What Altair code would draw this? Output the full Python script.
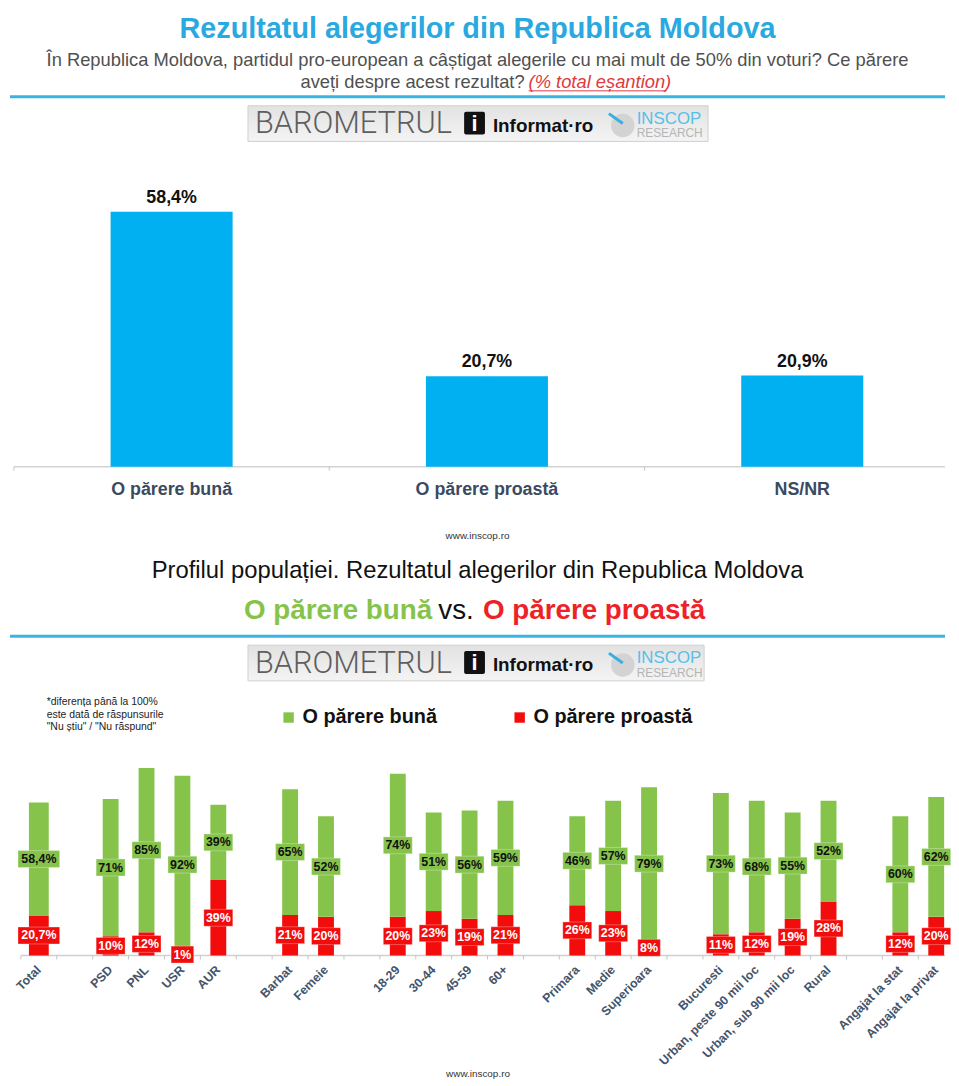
import altair as alt
import pandas as pd

# ---------------- data ----------------
top_categories = ["O părere bună", "O părere proastă", "NS/NR"]
top_values = [58.4, 20.7, 20.9]
top_labels = ["58,4%", "20,7%", "20,9%"]

profile_groups = [
    ["Total"],
    ["PSD", "PNL", "USR", "AUR"],
    ["Barbat", "Femeie"],
    ["18-29", "30-44", "45-59", "60+"],
    ["Primara", "Medie", "Superioara"],
    ["Bucuresti", "Urban, peste 90 mii loc", "Urban, sub 90 mii loc", "Rural"],
    ["Angajat la stat", "Angajat la privat"],
]
good_values = [58.4, 71, 85, 92, 39, 65, 52, 74, 51, 56, 59, 46, 57, 79, 73, 68, 55, 52, 60, 62]
bad_values = [20.7, 10, 12, 1, 39, 21, 20, 20, 23, 19, 21, 26, 23, 8, 11, 12, 19, 28, 12, 20]
good_labels = ["58,4%", "71%", "85%", "92%", "39%", "65%", "52%", "74%", "51%", "56%", "59%",
               "46%", "57%", "79%", "73%", "68%", "55%", "52%", "60%", "62%"]
bad_labels = ["20,7%", "10%", "12%", "1%", "39%", "21%", "20%", "20%", "23%", "19%", "21%",
              "26%", "23%", "8%", "11%", "12%", "19%", "28%", "12%", "20%"]
series_names = ["O părere bună", "O părere proastă"]

GREEN = "#86c34b"
RED = "#f20c0c"
BLUE = "#00b0f0"
LINEBLUE = "#38b4e6"
LABEL_COL = "#44546a"
FONT = "Liberation Sans"

# ---------------- derived tables ----------------
profile_categories = [c for g in profile_groups for c in g]
slots = []
for i, g in enumerate(profile_groups):
    if i > 0:
        slots.append("_%d" % i)
    slots.extend(g)

rows = []
for c, g, b, gl, bl in zip(profile_categories, good_values, bad_values, good_labels, bad_labels):
    rows.append(dict(cat=c, serie=series_names[1], value=b, label=bl, ord=0, mid=b / 2))
    rows.append(dict(cat=c, serie=series_names[0], value=g, label=gl, ord=1, mid=b + g / 2))
prof = pd.DataFrame(rows)
slot_df = pd.DataFrame({"cat": slots})
top_df = pd.DataFrame({"cat": top_categories, "value": top_values, "label": top_labels})

W = 943
HA = 458
HB = 493


def one():
    return pd.DataFrame({"t": [""]})


def txt(text, x, y, size, color="#000", weight="normal", align="center", font=FONT, style="normal"):
    return alt.Chart(pd.DataFrame({"t": [text]})).mark_text(
        align=align, baseline="middle", fontSize=size, color=color, fontWeight=weight,
        font=font, fontStyle=style
    ).encode(x=alt.value(x), y=alt.value(y), text="t:N")


def hline(x1, x2, y, color, width):
    return alt.Chart(one()).mark_rule(color=color, strokeWidth=width).encode(
        x=alt.value(x1), x2=alt.value(x2), y=alt.value(y))


def banner(x0, y0, w):
    h = 36
    layers = []
    layers.append(alt.Chart(one()).mark_rect(
        color={"gradient": "linear", "x1": 0, "y1": 0, "x2": 0, "y2": 1,
               "stops": [{"offset": 0, "color": "#e2e2e2"}, {"offset": 1, "color": "#f4f4f4"}]},
        stroke="#cfcfcf", strokeWidth=1
    ).encode(x=alt.value(x0), x2=alt.value(x0 + w), y=alt.value(y0), y2=alt.value(y0 + h)))
    layers.append(txt("BAROMETRUL", x0 + 7, y0 + 19, 31, "#5e5e5e", 300, "left", "Roboto"))
    layers.append(alt.Chart(one()).mark_rect(color="#111", cornerRadius=2).encode(
        x=alt.value(x0 + 218), x2=alt.value(x0 + 239), y=alt.value(y0 + 6), y2=alt.value(y0 + 29)))
    layers.append(txt("i", x0 + 228.5, y0 + 18, 22, "white", "bold"))
    layers.append(txt("Informat·ro", x0 + 247, y0 + 20, 19, "#111", "bold", "left"))
    layers.append(alt.Chart(one()).mark_point(filled=True, color="#d3d3d3", opacity=1, size=560).encode(
        x=alt.value(x0 + 378), y=alt.value(y0 + 20)))
    layers.append(alt.Chart(one()).mark_rule(color="#3aaee0", strokeWidth=3).encode(
        x=alt.value(x0 + 364), x2=alt.value(x0 + 378), y=alt.value(y0 + 8), y2=alt.value(y0 + 18)))
    layers.append(txt("INSCOP", x0 + 392, y0 + 13, 17, "#55c0e8", "normal", "left"))
    layers.append(txt("RESEARCH", x0 + 392, y0 + 28, 12, "#b5b5b5", "normal", "left"))
    return layers


# ---------------- panel A ----------------
xA = alt.X("cat:N", sort=top_categories, axis=None,
           scale=alt.Scale(domain=top_categories, range=[4, 958], paddingInner=0.613, paddingOuter=0.3065))
yA = alt.Y("value:Q", axis=None, scale=alt.Scale(domain=[0, HA / 4.40], nice=False))

barsA = alt.Chart(top_df).mark_bar(color=BLUE).encode(x=xA, y=yA)
valA = alt.Chart(top_df).mark_text(dy=-14, fontSize=18, fontWeight="bold", color="#111", baseline="middle").encode(
    x=xA, y=yA, text="label:N")
catA = alt.Chart(top_df).mark_text(dy=24, fontSize=18, fontWeight="bold", color="#3a4a60", baseline="middle").encode(
    x=xA, y=alt.value(HA), text="cat:N")
tickA = alt.Chart(top_df).mark_rule(color="#c4c4c4", xOffset=-159).encode(
    x=xA, y=alt.value(HA), y2=alt.value(HA + 4))
baseA = hline(4, W, HA, "#d4d4d4", 1.5)

headA = [
    txt("Rezultatul alegerilor din Republica Moldova", W / 2, 17, 29, "#29a9e0", "bold"),
    txt("În Republica Moldova, partidul pro-european a câștigat alegerile cu mai mult de 50% din voturi? Ce părere",
        W / 2, 48, 18.5, "#505050"),
    txt("aveți despre acest rezultat? ", 519, 70, 18.5, "#505050", align="right"),
    txt("(% total eșantion)", 523, 70, 18.5, "#e0393e", align="left", style="italic"),
    hline(523, 662, 79, "#e0393e", 1),
    hline(0, W, 85, LINEBLUE, 3),
]

panelA = alt.layer(*headA, *banner(240, 94, 464), baseA, tickA, barsA, valA, catA).properties(width=W, height=HA)

# ---------------- panel B ----------------
axisB = alt.Axis(
    title="www.inscop.ro", labelAngle=-45, labelAlign="right", labelBaseline="middle",
    labelFontSize=12.5, labelFontWeight="bold", labelColor=LABEL_COL, labelPadding=12,
    labelOverlap=False, domain=False, ticks=False, labelFont=FONT,
    labelExpr="indexof(datum.label, '_') == 0 ? '' : datum.label",
    titleX=W / 2, titleY=119, titleFontSize=10, titleFontWeight="normal", titleColor="#333",
    titleBaseline="middle", titleAlign="center", titleFont=FONT,
)
xB = alt.X("cat:N", sort=slots, axis=axisB,
           scale=alt.Scale(domain=slots, range=[11, 952.2], paddingInner=0.558, paddingOuter=0.279))
ysB = alt.Scale(domain=[0, HB / 1.95], nice=False)
colB = alt.Color("serie:N", scale=alt.Scale(domain=series_names, range=[GREEN, RED]),
                 legend=alt.Legend(orient="none", legendX=271, legendY=701, direction="horizontal",
                                   title=None, symbolType="square", symbolSize=110, symbolStrokeWidth=0,
                                   symbolOpacity=1, labelFontSize=20, labelFontWeight="bold",
                                   labelColor="#111", labelFont=FONT, columnPadding=73, padding=0,
                                   labelOffset=4, labelLimit=300))

barsB = alt.Chart(prof).transform_calculate(
    bw="datum.cat == 'Total' ? 20 : 16"
).mark_bar().encode(
    x=xB, y=alt.Y("value:Q", stack="zero", scale=ysB, axis=None),
    color=colB, order=alt.Order("ord:Q"),
    size=alt.Size("bw:Q", scale=None, legend=None),
)
boxB = alt.Chart(prof).transform_calculate(
    boxw="length(datum.label) * 6.4 + 10"
).mark_bar(yOffset=-8.5, y2Offset=8.5, stroke="white", strokeWidth=0.6, strokeOpacity=0.5).encode(
    x=xB, y=alt.Y("mid:Q", scale=ysB, axis=None), y2="mid:Q",
    color=alt.Color("serie:N", scale=alt.Scale(domain=series_names, range=[GREEN, RED]), legend=None),
    size=alt.Size("boxw:Q", scale=None, legend=None),
)
labB = alt.Chart(prof).mark_text(fontSize=12.5, fontWeight="bold", baseline="middle").encode(
    x=xB, y=alt.Y("mid:Q", scale=ysB, axis=None), text="label:N",
    color=alt.condition(alt.datum.serie == series_names[1], alt.value("white"), alt.value("#111")),
)
tickB = alt.Chart(slot_df).mark_rule(color="#c4c4c4", xOffset=-18.1).encode(
    x=xB, y=alt.value(HB), y2=alt.value(HB + 4))
baseB = hline(11, W, HB, "#d0d0d0", 1.5)

headB = [
    txt("www.inscop.ro", W / 2, 70, 10, "#333"),
    txt("Profilul populației. Rezultatul alegerilor din Republica Moldova", W / 2, 105, 24, "#111"),
    txt("O părere bună", 236, 146, 28, GREEN, "bold", "left"),
    txt("vs.", 432, 146, 28, "#111", "normal", "left"),
    txt("O părere proastă", 477, 146, 28, "#ee2226", "bold", "left"),
    hline(0, W, 171, LINEBLUE, 3),
    txt("*diferența până la 100%", 37, 237, 10.5, "#222", align="left"),
    txt("este dată de răspunsurile", 37, 250, 10.5, "#222", align="left"),
    txt("\"Nu știu\" / \"Nu răspund\"", 37, 263, 10.5, "#222", align="left"),
]

panelB = alt.layer(*headB, *banner(240, 180, 460), baseB, tickB, barsB, boxB, labB).properties(width=W, height=HB)

chart = alt.vconcat(panelA, panelB, spacing=0, bounds="flush").properties(
    padding=0
).configure(font=FONT).configure_view(stroke=None)

chart.save("out.html", embed_options={"renderer": "svg", "actions": False})
